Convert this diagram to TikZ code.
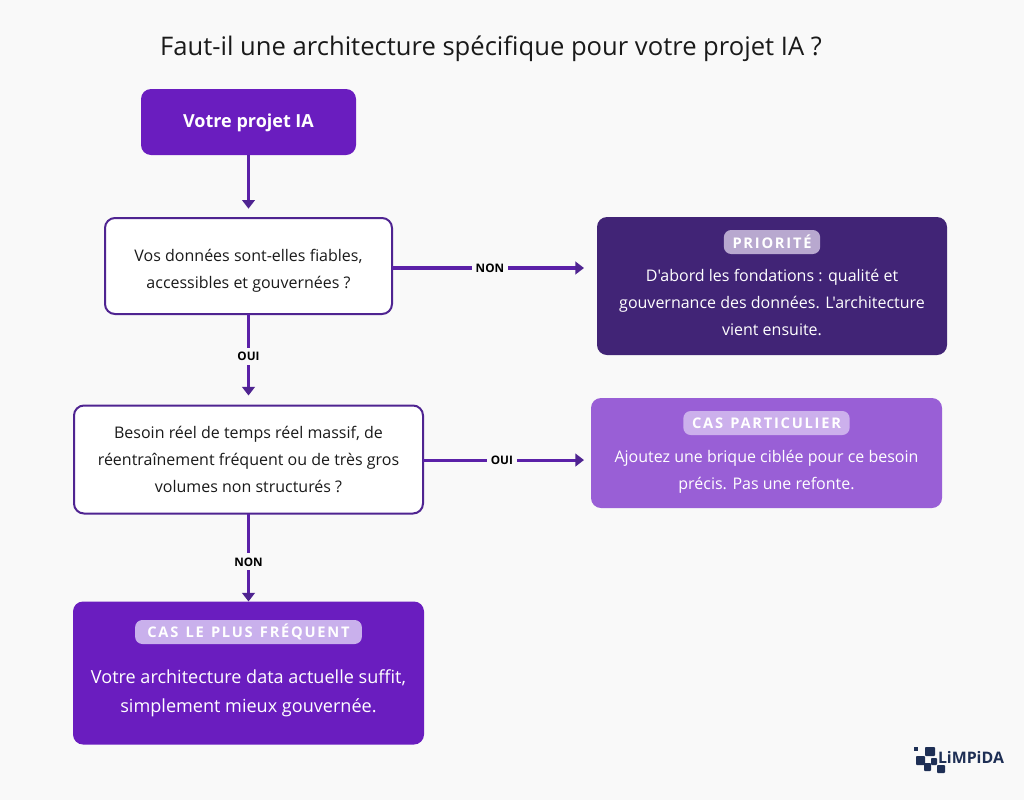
\documentclass[tikz,border=0pt]{standalone}
\usepackage{fontspec}
\setmainfont[Ligatures=TeXOff]{Open Sans}
\usetikzlibrary{arrows.meta}
\definecolor{bgc}{HTML}{F9F9F9}
\definecolor{lineP}{HTML}{4F2491}
\definecolor{lineM}{HTML}{5B21A8}
\definecolor{mainP}{HTML}{6A1DBF}
\definecolor{darkP}{HTML}{412476}
\definecolor{midP}{HTML}{995FD6}
\definecolor{tagA}{HTML}{B8A8CF}
\definecolor{tagB}{HTML}{CCB0EC}
\definecolor{tagC}{HTML}{C9B0EC}
\definecolor{navy}{HTML}{1E2F55}
\definecolor{ink}{HTML}{1A1A1A}
\newcommand\tagsp{\hspace{1.2pt} }
\tikzset{
  x=0.75pt,y=-0.75pt,
  every node/.style={inner sep=0pt,outer sep=0pt},
  qbox/.style={draw=lineP,line width=1.5pt,fill=white,rounded corners=7.5pt,minimum width=#1*0.75pt},
  qtext/.style={text=ink,font=\fontsize{12}{20.25}\selectfont,align=center},
  fbox/.style={rounded corners=7.5pt,text=white,align=center},
  tag/.style={rounded corners=5.5pt,text=white,font=\fontsize{11}{12}\selectfont\bfseries\addfontfeatures{LetterSpace=12},minimum height=18pt,inner xsep=6.5pt},
  body/.style={text=white,font=\fontsize{12}{20.25}\selectfont,align=center},
  conn/.style={draw=lineM,line width=2.3pt,-{Triangle[length=6.5pt,width=9.5pt,color=lineP]}},
  elabel/.style={fill=bgc,text=black,font=\fontsize{8.8}{10}\selectfont\bfseries,inner xsep=3pt,inner ysep=3.2pt},
}
\begin{document}
\begin{tikzpicture}
\useasboundingbox (0,0) rectangle (1024,800);
\fill[bgc] (0,0) rectangle (1024,800);
\node[text=ink,font=\fontsize{19.2}{22}\selectfont] (title) at (491,49) {Faut-il une architecture spécifique pour votre projet IA ?};

\node[fbox,fill=mainP,minimum width=161.25pt,minimum height=49.5pt,font=\fontsize{13.5}{16}\selectfont\bfseries] (start) at (248.5,122) {\raisebox{-0.75pt}[\height][\depth]{Votre projet IA}};

\node[qbox=287,minimum height=72pt] (q1) at (248.5,266) {};
\node[qtext] (q1T) at (248.5,270.5) {Vos données sont-elles fiables,\\accessibles et gouvernées ?};
\node[qbox=349,minimum height=81pt] (q2) at (248.5,459.5) {};
\node[qtext] (q2T) at (248.5,459.5) {Besoin réel de temps réel massif, de\\réentraînement fréquent ou de très gros\\volumes non structurés ?};

\node[fbox,fill=darkP,minimum width=262.5pt,minimum height=103.5pt] (prio) at (772,286) {};
\node[tag,fill=tagA] (prioT) at (772,242) {PRIORITÉ};
\node[body] (prioB) at (772,302) {D'abord les fondations : qualité et\\gouvernance des données. L'architecture\\vient ensuite.};

\node[fbox,fill=midP,minimum width=263.25pt,minimum height=82.5pt] (cas) at (766.5,453) {};
\node[tag,fill=tagB] (casT) at (766.5,423) {CAS\tagsp PARTICULIER};
\node[body] (casB) at (766.5,472) {Ajoutez une brique ciblée pour ce besoin\\précis. Pas une refonte.};

\node[fbox,fill=mainP,minimum width=263.25pt,minimum height=107.25pt] (freq) at (248.5,673) {};
\node[tag,fill=tagC,inner xsep=9.2pt] (freqT) at (248.5,632) {CAS\tagsp LE\tagsp PLUS\tagsp FRÉQUENT};
\node[body,font=\fontsize{13.55}{21.75}\selectfont] (freqB) at (248.5,693.5) {Votre architecture data actuelle suffit,\\simplement mieux gouvernée.};

\coordinate (a1) at ([yshift=-1.5pt]q1.east);
\coordinate (a2) at ([yshift=-0.4pt]q2.east);
\draw[conn] (start) -- ([yshift=7pt]q1.north);
\draw[conn] (a1) -- ([xshift=-9.75pt]a1 -| prio.west) node[elabel,pos=0.51] {NON};
\draw[conn] (q1) -- ([yshift=7.5pt]q2.north) node[elabel,pos=0.52] {OUI};
\draw[conn] (a2) -- ([xshift=-5.25pt]a2 -| cas.west) node[elabel,pos=0.49] {OUI};
\draw[conn] (q2) -- (freq.north) node[elabel,pos=0.55] {NON};

% logo
\node[text=navy,font=\fontsize{11.9}{14}\selectfont\bfseries,anchor=west] (logoT) at (938,757.5) {LiMPiDA};
\begin{scope}[navy]
\fill (913.5,747) rectangle (918,751);
\fill[rounded corners=0.6pt] (925,747) rectangle (935,756);
\fill[rounded corners=0.6pt] (916,756) rectangle (925,765);
\fill[rounded corners=0.6pt] (924,763) rectangle (931,771);
\fill[rounded corners=0.6pt] (931,758) rectangle (937,765);
\fill[rounded corners=0.6pt] (937,765) rectangle (945,773);
\end{scope}
\end{tikzpicture}
\end{document}
